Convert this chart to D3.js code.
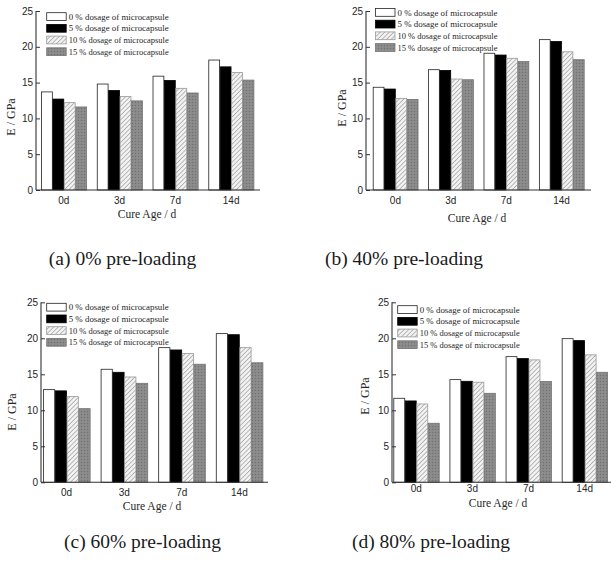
<!DOCTYPE html>
<html>
<head>
<meta charset="utf-8">
<script src="https://cdn.jsdelivr.net/npm/d3@7"></script>
<style>
  html, body { margin: 0; padding: 0; background: #fff; }
  svg { display: block; }
</style>
</head>
<body>
<svg id="chart" width="611" height="572"></svg>
<script>
// ---------------- DATA ----------------
const categories = ["0d", "3d", "7d", "14d"];
const seriesNames = [
  "0 % dosage of microcapsule",
  "5 % dosage of microcapsule",
  "10 % dosage of microcapsule",
  "15 % dosage of microcapsule"
];
const yTicks = [0, 5, 10, 15, 20, 25];

// (a) 0% pre-loading
const a_dose0  = [13.7, 14.8, 15.9, 18.15];
const a_dose5  = [12.7, 13.9, 15.3, 17.2];
const a_dose10 = [12.2, 13.05, 14.2, 16.4];
const a_dose15 = [11.6, 12.45, 13.55, 15.35];
// (b) 40% pre-loading
const b_dose0  = [14.35, 16.8, 19.1, 21.0];
const b_dose5  = [14.1, 16.7, 18.85, 20.75];
const b_dose10 = [12.8, 15.5, 18.4, 19.3];
const b_dose15 = [12.65, 15.4, 17.95, 18.2];
// (c) 60% pre-loading
const c_dose0  = [12.87, 15.7, 18.7, 20.65];
const c_dose5  = [12.7, 15.28, 18.38, 20.5];
const c_dose10 = [11.9, 14.63, 17.9, 18.7];
const c_dose15 = [10.23, 13.75, 16.4, 16.6];
// (d) 80% pre-loading
const d_dose0  = [11.67, 14.26, 17.45, 19.95];
const d_dose5  = [11.3, 14.03, 17.18, 19.68];
const d_dose10 = [10.88, 13.9, 17.0, 17.7];
const d_dose15 = [8.2, 12.36, 14.0, 15.28];

const captions = ["(a) 0% pre-loading", "(b) 40% pre-loading", "(c) 60% pre-loading", "(d) 80% pre-loading"];
const yTitle = "E / GPa";
const xTitle = "Cure Age / d";

// ---------------- LAYOUT ----------------
const panels = [
  { series: [a_dose0, a_dose5, a_dose10, a_dose15], caption: captions[0],
    axisX: 36, yBottom: 190, yTop: 11, barStart: 41, barEnd: 254, axisEnd: 260,
    legX: 46.7, legY: 12.7, yTitleX: 11, yTitleY: 117, xTitleX: 147, xTitleY: 214, xTickY: 200,
    capX: 122.5, capY: 265 },
  { series: [b_dose0, b_dose5, b_dose10, b_dose15], caption: captions[1],
    axisX: 366, yBottom: 190, yTop: 11, barStart: 372.7, barEnd: 584.3, axisEnd: 591,
    legX: 375.5, legY: 8.5, yTitleX: 342, yTitleY: 108, xTitleX: 477, xTitleY: 218, xTickY: 200,
    capX: 404, capY: 265 },
  { series: [c_dose0, c_dose5, c_dose10, c_dose15], caption: captions[2],
    axisX: 41, yBottom: 482.3, yTop: 302.3, barStart: 43, barEnd: 263, axisEnd: 268,
    legX: 46.7, legY: 303.3, yTitleX: 12, yTitleY: 412, xTitleX: 152, xTitleY: 506, xTickY: 493,
    capX: 142.5, capY: 548 },
  { series: [d_dose0, d_dose5, d_dose10, d_dose15], caption: captions[3],
    axisX: 392, yBottom: 482.3, yTop: 302.3, barStart: 393.3, barEnd: 607.7, axisEnd: 640,
    legX: 397.7, legY: 305.7, yTitleX: 365, yTitleY: 396, xTitleX: 498, xTitleY: 503, xTickY: 489,
    capX: 431, capY: 548 }
];

const svg = d3.select("#chart");
const defs = svg.append("defs");

// hatch pattern for 10 %
const hatch = defs.append("pattern").attr("id", "hatch")
  .attr("patternUnits", "userSpaceOnUse").attr("width", 3.2).attr("height", 3.2)
  .attr("patternTransform", "rotate(45)");
hatch.append("rect").attr("width", 3.2).attr("height", 3.2).attr("fill", "#f2f2f2");
hatch.append("line").attr("x1", 0).attr("y1", 0).attr("x2", 0).attr("y2", 3.2)
  .attr("stroke", "#a0a0a0").attr("stroke-width", 1.4);

// stipple pattern for 15 %
const stip = defs.append("pattern").attr("id", "stipple")
  .attr("patternUnits", "userSpaceOnUse").attr("width", 3).attr("height", 3);
stip.append("rect").attr("width", 3).attr("height", 3).attr("fill", "#888888");
stip.append("rect").attr("x", 0).attr("y", 0).attr("width", 1).attr("height", 1).attr("fill", "#707070");
stip.append("rect").attr("x", 1.5).attr("y", 1.5).attr("width", 1).attr("height", 1).attr("fill", "#9c9c9c");

const fills = ["#ffffff", "#000000", "url(#hatch)", "url(#stipple)"];
const strokes = ["#222", "#000", "#999", "#747474"];

const serif = "'Liberation Serif', 'Times New Roman', serif";
const sans = "'Liberation Sans', Arial, sans-serif";
const textColor = "#262626";

panels.forEach(p => {
  const g = svg.append("g");
  const y = d3.scaleLinear().domain([0, 25]).range([p.yBottom, p.yTop]);
  const x0 = d3.scaleBand().domain(categories).range([p.barStart, p.barEnd])
    .paddingInner(0.18).paddingOuter(0);
  const x1 = d3.scaleBand().domain(d3.range(seriesNames.length)).range([0, x0.bandwidth()]).padding(0);

  // bars
  categories.forEach((c, ci) => {
    p.series.forEach((vals, si) => {
      g.append("rect")
        .attr("x", x0(c) + x1(si) + 0.5)
        .attr("y", y(vals[ci]))
        .attr("width", x1.bandwidth() - 0.6)
        .attr("height", y(0) - y(vals[ci]))
        .attr("fill", fills[si])
        .attr("stroke", strokes[si])
        .attr("stroke-width", 0.8);
    });
  });

  // y axis
  const yAxis = d3.axisRight(y).tickValues(yTicks).tickSize(4).tickFormat(() => "");
  const ya = g.append("g").attr("transform", `translate(${p.axisX},0)`).call(yAxis);
  ya.select(".domain").attr("d", `M0,${p.yTop}V${p.yBottom}`).attr("stroke", "#333").attr("stroke-width", 1.1);
  ya.selectAll(".tick line").attr("stroke", "#333").attr("stroke-width", 1);
  yTicks.forEach(t => {
    g.append("text").attr("x", p.axisX - 3).attr("y", y(t)).attr("dy", "0.35em")
      .attr("text-anchor", "end").attr("font-family", sans).attr("font-size", 10)
      .attr("fill", textColor).text(t);
  });

  // x axis
  const xAxis = d3.axisBottom(x0).tickSize(0).tickPadding(0);
  const xa = g.append("g").attr("transform", `translate(0,${p.yBottom})`).call(xAxis);
  xa.select(".domain").attr("d", `M${p.axisX},0H${p.axisEnd}`).attr("stroke", "#333").attr("stroke-width", 1.1);
  xa.selectAll(".tick text").attr("y", p.xTickY - p.yBottom).attr("dy", "0.35em")
    .attr("font-family", sans).attr("font-size", 10).attr("fill", textColor);

  // axis titles
  g.append("text").attr("transform", `translate(${p.yTitleX},${p.yTitleY}) rotate(-90)`)
    .attr("text-anchor", "middle").attr("dy", "0.35em")
    .attr("font-family", serif).attr("font-size", 12).attr("fill", textColor).text(yTitle);
  g.append("text").attr("x", p.xTitleX).attr("y", p.xTitleY).attr("text-anchor", "middle")
    .attr("dy", "0.35em").attr("font-family", serif).attr("font-size", 11.5)
    .attr("fill", textColor).text(xTitle);

  // legend
  seriesNames.forEach((name, si) => {
    const ly = p.legY + si * 11.7;
    g.append("rect").attr("x", p.legX).attr("y", ly).attr("width", 19.5).attr("height", 7.8)
      .attr("fill", fills[si]).attr("stroke", strokes[si]).attr("stroke-width", 0.8);
    g.append("text").attr("x", p.legX + 22).attr("y", ly + 3.9).attr("dy", "0.35em")
      .attr("font-family", serif).attr("font-size", 9).attr("fill", textColor)
      .attr("textLength", 100).attr("lengthAdjust", "spacingAndGlyphs").text(name);
  });

  // caption
  svg.append("text").attr("x", p.capX).attr("y", p.capY).attr("text-anchor", "middle")
    .attr("font-family", serif).attr("font-size", 19.5).attr("fill", "#1a1a1a").text(p.caption);
});
</script>
</body>
</html>
